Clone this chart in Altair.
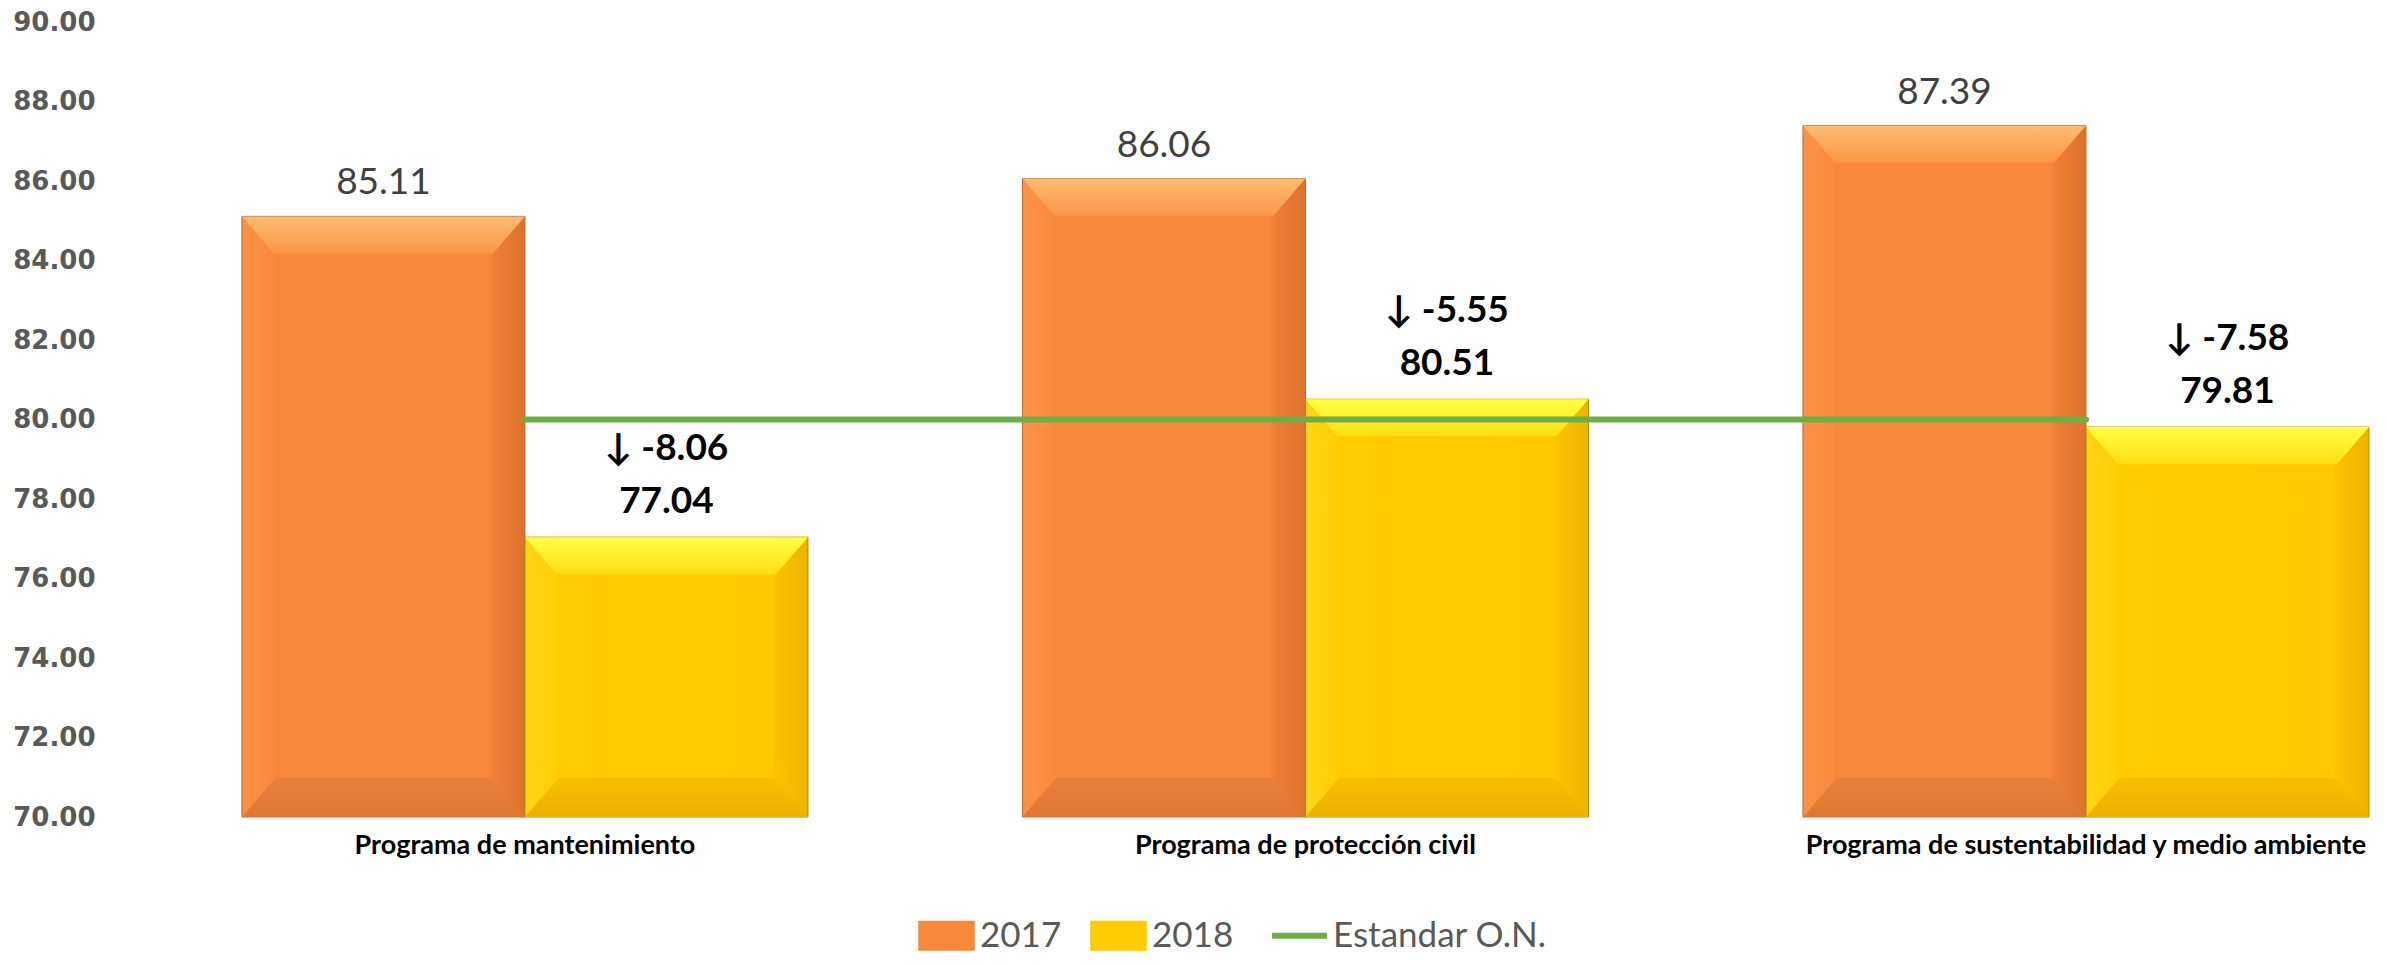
import altair as alt
import pandas as pd

# ---------------- data ----------------
categorias = [
    "Programa de mantenimiento",
    "Programa de protección civil",
    "Programa de sustentabilidad y medio ambiente",
]
series = ["2017", "2018", "Estandar O.N."]
valores_2017 = [85.11, 86.06, 87.39]
valores_2018 = [77.04, 80.51, 79.81]
cambios_2018 = [-8.06, -5.55, -7.58]
estandar = [80.00, 80.00, 80.00]
y_ticks = [70, 72, 74, 76, 78, 80, 82, 84, 86, 88, 90]
y_dominio = [70, 90]

colores = ["#F8893A", "#FFCC00", "#70AD47"]

df_barras = pd.DataFrame({
    "categoria": categorias * 2,
    "serie": [series[0]] * 3 + [series[1]] * 3,
    "valor": valores_2017 + valores_2018,
    "base": [y_dominio[0]] * 6,
})
df_2017 = pd.DataFrame({"categoria": categorias, "serie": series[0], "valor": valores_2017})
df_2018 = pd.DataFrame({"categoria": categorias, "serie": series[1],
                        "valor": valores_2018, "cambio": cambios_2018})
df_linea = pd.DataFrame({"categoria": categorias, "serie": series[2], "valor": estandar})

# ---------------- styles ----------------
FONT = "Lato, 'Open Sans', sans-serif"


def grad(stops, vertical=False):
    return alt.LinearGradient(
        gradient="linear",
        x1=0, y1=0,
        x2=0 if vertical else 1,
        y2=1 if vertical else 0,
        stops=[alt.GradientStop(offset=o, color=c) for o, c in stops],
    )


g_bar_17 = grad([(0, "#FC9245"), (0.10, "#F98B3D"), (0.12, "#F8893A"),
                 (0.87, "#F8883A"), (0.89, "#EF7F35"), (1, "#DC722D")])
g_bar_18 = grad([(0, "#FFD515"), (0.10, "#FFCF08"), (0.12, "#FFCC00"),
                 (0.87, "#FFCB00"), (0.89, "#F9C300"), (1, "#ECB400")])
g_top_17 = grad([(0, "#FFBB73"), (1, "#FA9748")], vertical=True)
g_top_18 = grad([(0, "#FFFF45"), (1, "#FFDE14")], vertical=True)
g_bot_17 = grad([(0, "#EA8139"), (1, "#DF7732")], vertical=True)
g_bot_18 = grad([(0, "#F8C000"), (1, "#EBB000")], vertical=True)

cond17 = "datum.serie === '2017'"

x_enc = alt.X(
    "categoria:N",
    sort=categorias,
    scale=alt.Scale(domain=categorias, paddingInner=0.2748, paddingOuter=0.0762,
                    align=0.941, round=False),
    axis=alt.Axis(title=None, labelAngle=0, domain=False, ticks=False,
                  labelFont=FONT, labelFontSize=27, labelFontWeight="bold",
                  labelColor="#000000", labelPadding=15, labelLimit=1000),
)
xo_enc = alt.XOffset("serie:N", sort=series[:2],
                     scale=alt.Scale(domain=series[:2], paddingInner=0, paddingOuter=0))
y_scale = alt.Scale(domain=y_dominio, zero=False, nice=False)
y_axis = alt.Axis(title=None, values=y_ticks, format=".2f", domain=False, ticks=False,
                  grid=False, labelFont="DejaVu Sans", labelFontSize=26,
                  labelFontWeight="bold", labelColor="#595959", labelPadding=35)
y_enc = alt.Y("valor:Q", scale=y_scale, axis=y_axis)
y_base = alt.Y("base:Q", scale=y_scale, axis=y_axis)

is_line = "datum.value === 'Estandar O.N.'"
leyenda = alt.Legend(
    title=None, orient="none", direction="horizontal",
    legendX=799, legendY=896,
    symbolSize=3025, labelFont=FONT, labelFontSize=35, labelColor="#595959",
    labelOffset=16, columnPadding=26, padding=0, symbolOpacity=1, labelLimit=600,
    symbolType=alt.ExprRef(expr=f"{is_line} ? 'stroke' : 'M-1,-0.52H1V0.52H-1Z'"),
    symbolStrokeWidth=alt.ExprRef(expr=f"{is_line} ? 6 : 1.5"),
    symbolStrokeColor=alt.ExprRef(
        expr=f"{is_line} ? '#70AD47' : (datum.value === '2017' ? '#C0662A' : '#B39000')"),
    symbolFillColor=alt.ExprRef(
        expr=f"{is_line} ? 'transparent' : (datum.value === '2017' ? '#F08438' : '#FFCC00')"),
)
color_enc = alt.Color("serie:N", scale=alt.Scale(domain=series, range=colores), legend=leyenda)

# ---------------- layers ----------------
barras = alt.Chart(df_barras).mark_bar().encode(
    x=x_enc, xOffset=xo_enc, y=y_enc, y2=alt.Y2("base:Q"), color=color_enc
)

barras_grad = alt.Chart(df_barras).mark_bar(strokeWidth=1).encode(
    x=x_enc, xOffset=xo_enc, y=y_enc, y2=alt.Y2("base:Q"),
    fill=alt.condition(cond17, alt.value(g_bar_17), alt.value(g_bar_18)),
    stroke=alt.condition(cond17, alt.value("#BF6A2E"), alt.value("#B08C00")),
)

TRAP_SIZE = 283 * 283
bisel_sup = alt.Chart(df_barras).mark_point(
    shape="M-1,0L1,0L0.774,0.262L-0.774,0.262Z", size=TRAP_SIZE,
    filled=True, opacity=1, strokeWidth=0,
).encode(
    x=x_enc, xOffset=xo_enc, y=y_enc,
    fill=alt.condition(cond17, alt.value(g_top_17), alt.value(g_top_18)),
)

bisel_inf = alt.Chart(df_barras).mark_point(
    shape="M-1,0L1,0L0.76,-0.28L-0.76,-0.28Z", size=TRAP_SIZE,
    filled=True, opacity=1, strokeWidth=0,
).encode(
    x=x_enc, xOffset=xo_enc, y=y_base,
    fill=alt.condition(cond17, alt.value(g_bot_17), alt.value(g_bot_18)),
)

linea = alt.Chart(df_linea).mark_line(strokeWidth=6, strokeCap="round").encode(
    x=x_enc, y=y_enc, color=color_enc
)

txt_17 = alt.Chart(df_2017).mark_text(
    font=FONT, fontSize=37, color="#404040", dy=-22, baseline="alphabetic"
).encode(x=x_enc, xOffset=xo_enc, y=y_enc, text=alt.Text("valor:Q", format=".2f"))

txt_18 = alt.Chart(df_2018).mark_text(
    font=FONT, fontSize=37, fontWeight="bold", color="#000000", dy=-24,
    baseline="alphabetic"
).encode(x=x_enc, xOffset=xo_enc, y=y_enc, text=alt.Text("valor:Q", format=".2f"))

txt_cambio = alt.Chart(df_2018).transform_calculate(
    etiqueta="'\u2193 ' + replace(format(datum.cambio, '.2f'), '\u2212', '-')"
).mark_text(
    font=FONT, fontSize=37, fontWeight="bold", color="#000000", dy=-77,
    baseline="alphabetic"
).encode(x=x_enc, xOffset=xo_enc, y=y_enc, text="etiqueta:N")

chart = alt.layer(
    barras, barras_grad, bisel_sup, bisel_inf, linea, txt_17, txt_18, txt_cambio
).properties(
    width=2246, height=795,
    padding={"left": 122, "top": 14, "right": 0, "bottom": 136},
    autosize=alt.AutoSizeParams(type="none"),
    background="white",
).configure_view(stroke=None)

chart.save("out.html", embed_options={"renderer": "svg", "actions": False})
